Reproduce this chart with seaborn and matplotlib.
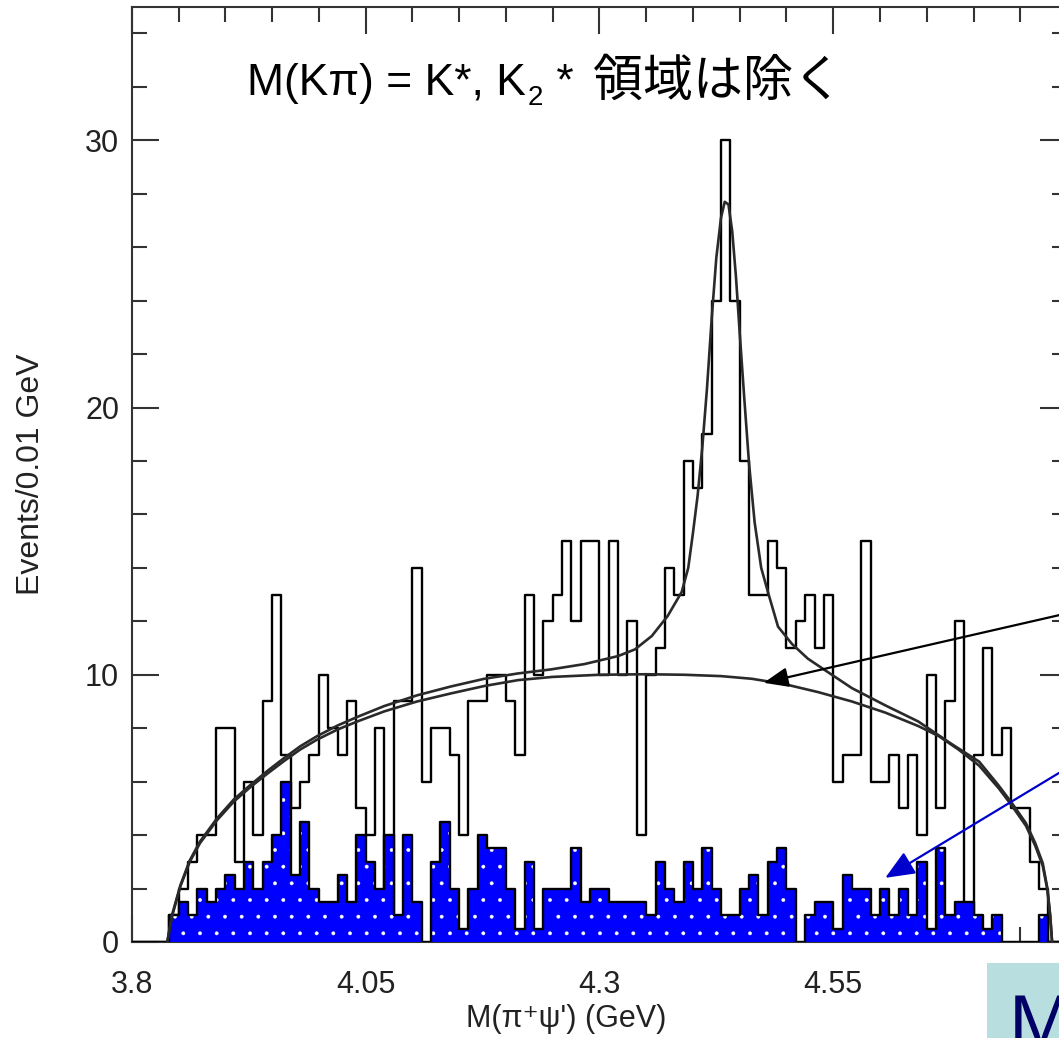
import numpy as np
import matplotlib
matplotlib.use("Agg")
import matplotlib.pyplot as plt
from matplotlib.patches import Rectangle
from matplotlib.ticker import FixedLocator, FixedFormatter, MultipleLocator
import seaborn as sns

# 0.01 GeV bins, first filled bin starts at 3.84 GeV
BIN_START = 3.84
BIN_WIDTH = 0.01

# signal region, events per bin (open histogram)
signal_counts = [
    1, 2, 3, 4, 4, 8, 8, 3, 6, 4,
    9, 13, 7, 5, 6, 7, 10, 8, 7, 9,
    5, 4, 8, 1, 9, 9, 14, 6, 8, 8,
    7, 4, 9, 9, 10, 10, 9, 7, 13, 10,
    12, 13, 15, 12, 15, 15, 10, 15, 10, 12,
    4, 10, 11, 14, 13, 18, 17, 19, 24, 30,
    24, 18, 13, 13, 15, 14, 11, 12, 13, 11,
    13, 6, 7, 7, 15, 6, 6, 7, 5, 7,
    4, 10, 5, 9, 12, 1, 7, 11, 7, 8,
    5, 5, 3, 2,
]

# K* sideband estimate (blue filled histogram)
sideband_counts = [
    1, 1.5, 1, 2, 1.5, 2, 2.5, 2, 3, 2,
    3, 4, 6, 2.5, 4.5, 2, 1.5, 1.5, 2.5, 1.5,
    4, 3, 2, 4, 1, 4, 1.5, 0, 3, 4.5,
    2, 0.5, 2, 4, 3.5, 3.5, 2, 0.5, 3, 0.5,
    2, 2, 2, 3.5, 1.5, 2, 2, 1.5, 1.5, 1.5,
    1.5, 1, 3, 2, 1.5, 3, 2, 3.5, 2, 1,
    1, 2, 2.5, 1, 3, 3.5, 2, 0, 1, 1.5,
    1.5, 0.5, 2.5, 2, 2, 1, 2, 1, 2, 1,
    3, 0.5, 3.5, 1, 1.5, 1.5, 1, 0.5, 1, 0,
    0, 0, 0, 1,
]

# background (phase space) curve
bg_x = [3.838, 3.843, 3.852, 3.862, 3.873, 3.891, 3.909, 3.927, 3.945, 3.962,
        3.980, 3.998, 4.020, 4.041, 4.070, 4.105, 4.141, 4.177, 4.213, 4.250,
        4.300, 4.350, 4.391, 4.430, 4.463, 4.498, 4.534, 4.570, 4.606, 4.641,
        4.663, 4.684, 4.706, 4.727, 4.741, 4.756, 4.766, 4.774, 4.779, 4.782,
        4.784]
bg_y = [0.0, 0.95, 2.08, 3.0, 3.7, 4.55, 5.25, 5.8, 6.3, 6.75,
        7.2, 7.57, 7.95, 8.25, 8.63, 9.0, 9.3, 9.58, 9.8, 9.92,
        10.0, 10.02, 10.0, 9.95, 9.85, 9.65, 9.35, 9.0, 8.58, 8.08,
        7.7, 7.2, 6.6, 5.75, 5.1, 4.35, 3.6, 2.85, 1.95, 0.95,
        0.0]

# total fit (background + Z peak)
fit_x = [3.838, 3.843, 3.852, 3.862, 3.873, 3.891, 3.909, 3.927, 3.945, 3.962,
         3.980, 3.998, 4.020, 4.041, 4.070, 4.105, 4.141, 4.177, 4.213, 4.248,
         4.284, 4.320, 4.338, 4.356, 4.373, 4.388, 4.395, 4.400, 4.405, 4.410,
         4.415, 4.420, 4.425, 4.430, 4.434, 4.438, 4.442, 4.446, 4.450, 4.455,
         4.460, 4.466, 4.473, 4.481, 4.491, 4.506, 4.523, 4.540, 4.570, 4.606,
         4.641, 4.677, 4.706, 4.727, 4.741, 4.756, 4.766, 4.774, 4.779, 4.782,
         4.784]
fit_y = [0.0, 1.0, 2.12, 3.05, 3.76, 4.62, 5.33, 5.88, 6.4, 6.86,
         7.32, 7.7, 8.1, 8.42, 8.83, 9.23, 9.56, 9.85, 10.05, 10.2,
         10.4, 10.7, 10.95, 11.45, 12.2, 13.1, 14.0, 15.3, 16.7, 18.5,
         20.7, 23.3, 25.6, 27.1, 27.7, 27.6, 26.6, 24.9, 22.8, 20.3,
         17.9, 15.7, 14.0, 13.0, 11.8, 11.15, 10.6, 10.2, 9.5, 8.85,
         8.25, 7.4, 6.75, 5.85, 5.2, 4.45, 3.7, 2.95, 2.0, 1.0,
         0.0]

# last major tick sits under the slide box, so it carries no label
x_major_ticks = [3.8, 4.05, 4.3, 4.55, 4.8]
x_tick_labels = ["3.8", "4.05", "4.3", "4.55", ""]

sns.set_theme(style="ticks")
plt.rcParams["font.family"] = ["Liberation Sans", "Noto Sans CJK JP", "DejaVu Sans"]
plt.rcParams["hatch.linewidth"] = 0.3

n_bins = len(signal_counts)
centers = BIN_START + BIN_WIDTH * (np.arange(n_bins) + 0.5)
# seaborn compares bins to "auto", so hand it a plain list
edges = [round(3.80 + BIN_WIDTH * i, 2) for i in range(101)]

fig = plt.figure(figsize=(10.59, 10.38), dpi=100)
ax = fig.add_axes([0.1244, 0.0925, 0.8832, 0.901])

# open histogram first, the blue one covers it
sns.histplot(x=centers, weights=signal_counts, bins=edges, element="step",
             fill=False, color="black", linewidth=1.7, ax=ax, zorder=2)
sns.histplot(x=centers, weights=sideband_counts, bins=edges, element="step",
             fill=True, facecolor="#0000ff", edgecolor="white", hatch=".",
             linewidth=0, ax=ax, zorder=3)
sns.histplot(x=centers, weights=sideband_counts, bins=edges, element="step",
             fill=False, color="black", linewidth=1.7, ax=ax, zorder=4)

sns.lineplot(x=bg_x, y=bg_y, ax=ax, color="#2a2a2a", linewidth=1.9,
             estimator=None, sort=False, zorder=5)
sns.lineplot(x=fit_x, y=fit_y, ax=ax, color="#2a2a2a", linewidth=1.9,
             estimator=None, sort=False, zorder=5)

ax.set_xlim(3.8, 4.8)
ax.set_ylim(0, 35)

ax.xaxis.set_major_locator(FixedLocator(x_major_ticks))
ax.xaxis.set_major_formatter(FixedFormatter(x_tick_labels))
ax.xaxis.set_minor_locator(MultipleLocator(0.05))
ax.yaxis.set_major_locator(MultipleLocator(10))
ax.yaxis.set_minor_locator(MultipleLocator(2))

ax.tick_params(which="both", direction="in", top=True, right=True,
               color="#333333", width=1.5, labelsize=22, labelcolor="#222222")
ax.tick_params(which="major", length=19.5)
ax.tick_params(which="minor", length=10.5)
ax.tick_params(axis="x", pad=20)
ax.tick_params(axis="y", pad=9)
for sp in ax.spines.values():
    sp.set_linewidth(1.5)
    sp.set_color("#333333")

ax.set_xlabel("M(π⁺ψ') (GeV)", fontsize=22, color="#222222",
              family=["Liberation Sans", "DejaVu Sans"])
ax.xaxis.set_label_coords(0.465, -0.066)
ax.set_ylabel("Events/0.01 GeV", fontsize=23, color="#222222")
ax.yaxis.set_label_coords(-0.092, 0.5)

# annotation arrows coming from the slide text on the right
ax.annotate("", xy=(4.4756, 9.7), xytext=(4.82, 12.46),
            arrowprops=dict(arrowstyle="-|>,head_length=0.75,head_width=0.3",
                            color="black", lw=1.6, shrinkA=0, shrinkB=0,
                            mutation_scale=20),
            annotation_clip=False, zorder=6)
ax.annotate("", xy=(4.6056, 2.4), xytext=(4.82, 6.93),
            arrowprops=dict(arrowstyle="-|>,head_length=0.9,head_width=0.38",
                            color="#0000cc", lw=1.6, shrinkA=0, shrinkB=0,
                            mutation_scale=20),
            annotation_clip=False, zorder=6)

# slide caption, built in pieces for the K2 subscript
t1 = ax.text(0.1233, 0.9056, "M(Kπ) = K*, K", transform=ax.transAxes,
             fontsize=32, ha="left", va="baseline", color="black")
t2 = ax.annotate("2", xy=(1, 0), xycoords=t1, xytext=(1, -5),
                 textcoords="offset points", fontsize=20, ha="left",
                 va="bottom", color="black")
t3 = ax.annotate(" *", xy=(1, 0), xycoords=t2, xytext=(1, 5),
                 textcoords="offset points", fontsize=32, ha="left",
                 va="bottom", color="black")
t4 = ax.annotate("領域は除く", xy=(1, 0), xycoords=t3, xytext=(14, -1),
                 textcoords="offset points", fontsize=36, ha="left",
                 va="bottom", color="black")

# cut-off slide box at the bottom right
fig.add_artist(Rectangle((0.932, 0.0), 0.07, 0.0723, transform=fig.transFigure,
                         facecolor="#b9dee0", edgecolor="none", zorder=10))
fig.text(0.953, -0.0096, "M", fontsize=55, color="#000066", ha="left",
         va="baseline", zorder=11)

fig.savefig("out.png", dpi=100)
